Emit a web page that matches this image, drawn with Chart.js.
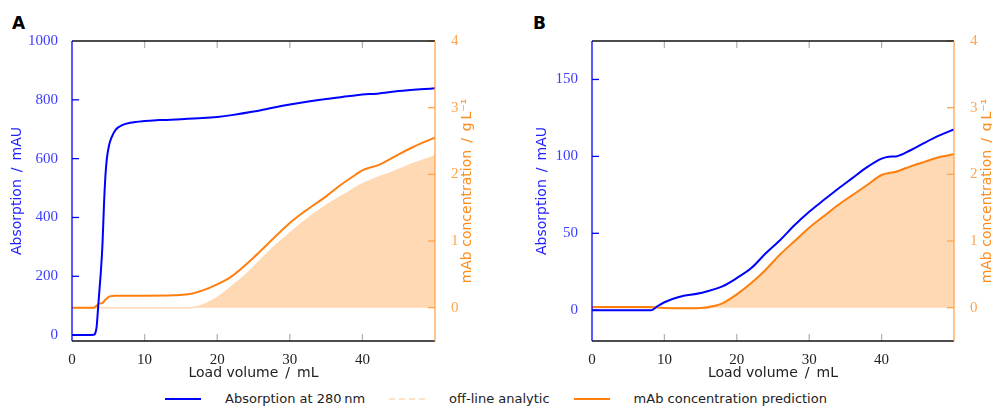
<!DOCTYPE html>
<html>
<head>
<meta charset="utf-8">
<script src="https://cdn.jsdelivr.net/npm/chart.js@4.4.1/dist/chart.umd.min.js"></script>
<style>
  body { margin: 0; background: #fff; width: 992px; height: 409px; position: relative; overflow: hidden; font-family: 'DejaVu Sans', sans-serif; }
  canvas { position: absolute; top: 0; }
  .tag { position: absolute; top: 13px; font: bold 17px 'DejaVu Sans', sans-serif; color: #000; }
  #legend { position: absolute; top: 391px; left: 0; width: 992px; display: flex; justify-content: center; align-items: center; font-size: 13px; color: #222; }
  .item { display: flex; align-items: center; margin: 0 12px; }
  .swatch { width: 36px; height: 0; border-top: 2px solid; margin-right: 24px; }
</style>
</head>
<body>
<div class="tag" style="left:12px">A</div>
<div class="tag" style="left:533px">B</div>
<canvas id="chartA" width="496" height="385" style="left:0"></canvas>
<canvas id="chartB" width="496" height="385" style="left:496px"></canvas>
<div id="legend">
  <div class="item"><span class="swatch" style="border-color:#0000ff"></span>Absorption at 280&#8201;nm</div>
  <div class="item"><span class="swatch" style="border-top:2px dashed #ffe2c6"></span>off-line analytic</div>
  <div class="item"><span class="swatch" style="border-color:#ff7f0e"></span>mAb concentration prediction</div>
</div>
<script>
// shared ticks
const xTicks = [0, 10, 20, 30, 40];
const concTicks = [0, 1, 2, 3, 4];
const absTicksA = [0, 200, 400, 600, 800, 1000];
const absTicksB = [0, 50, 100, 150];

// Panel A
const absAX = [0, 2, 3, 3.2, 3.4, 3.6, 3.8, 4.0, 4.2, 4.4, 4.6, 4.8, 5.1, 5.5, 6, 7, 8, 10, 12, 15, 18, 20, 22, 25, 28, 30, 33, 35, 38, 40, 42, 45, 48, 50];
const absA  = [0, 0, 1, 6, 30, 95, 160, 225, 310, 440, 540, 600, 645, 675, 698, 715, 722, 728, 731, 734, 738, 742, 748, 760, 775, 784, 796, 803, 812, 818, 821, 830, 836, 839];
const predAX = [0, 3, 3.4, 3.7, 4.2, 4.6, 5.2, 6, 10, 14, 16, 18, 20, 22, 25, 27, 30, 32, 35, 37, 39, 40, 41, 42, 43, 45, 47, 48, 50];
const predA  = [0, 0, 0.03, 0.06, 0.07, 0.12, 0.17, 0.18, 0.18, 0.185, 0.2, 0.26, 0.35, 0.47, 0.75, 0.96, 1.27, 1.44, 1.67, 1.84, 1.99, 2.06, 2.1, 2.13, 2.18, 2.3, 2.41, 2.46, 2.55];
const offAX = [0, 16, 17, 18, 19, 20, 21, 22, 24, 26, 28, 30, 32, 34, 36, 38, 40, 42, 44, 46, 48, 50];
const offA  = [0, 0, 0.01, 0.04, 0.09, 0.15, 0.23, 0.32, 0.5, 0.72, 0.93, 1.12, 1.3, 1.46, 1.6, 1.73, 1.86, 1.95, 2.03, 2.12, 2.2, 2.28];

// Panel B
const absBX = [0, 8.2, 9, 10, 12, 15, 18, 20, 22, 24, 26, 28, 30, 32, 34, 36, 38, 40, 41, 42, 44, 46, 48, 50];
const absB  = [0, 0, 2.5, 5.2, 8.6, 11.2, 15.5, 20.9, 27.4, 37, 45.7, 55.4, 64, 71.6, 79, 86, 93, 98.5, 99.8, 100, 104, 109, 113.6, 117.5];
const predBX = [0, 8, 10, 12, 15, 17, 18, 20, 22, 24, 26, 28, 30, 32, 34, 36, 38, 40, 41, 42, 44, 46, 48, 50];
const predB  = [0.01, 0.01, -0.005, -0.01, -0.005, 0.03, 0.065, 0.2, 0.37, 0.57, 0.8, 1.0, 1.2, 1.37, 1.54, 1.69, 1.84, 1.99, 2.02, 2.04, 2.12, 2.19, 2.26, 2.3];
const offBX = [0, 16, 17, 18, 20, 22, 24, 26, 28, 30, 32, 34, 36, 38, 40, 41, 42, 44, 46, 48, 50];
const offB  = [0, 0, 0.03, 0.065, 0.2, 0.37, 0.57, 0.8, 1.0, 1.2, 1.37, 1.54, 1.69, 1.84, 1.99, 2.02, 2.04, 2.12, 2.19, 2.26, 2.3];

const BLUE = '#0000ff';
const ORANGE = '#ff7f0e';
const PEACH = '#ffd9b3';
const AXIS_ORANGE = '#ffa54f';

Chart.defaults.font.family = "'DejaVu Sans', sans-serif";

function series(xs, ys) {
  return xs.map((x, i) => ({ x: x, y: ys[i] }));
}

function setTicks(list) {
  return scale => { scale.ticks = list.map(v => ({ value: v })); };
}

// inward tick marks, frame lines and the right axis title
const frame = {
  id: 'frame',
  afterDatasetsDraw(chart) {
    const { ctx, chartArea: a, scales } = chart;
    const seg = (x1, y1, x2, y2) => { ctx.beginPath(); ctx.moveTo(x1, y1); ctx.lineTo(x2, y2); ctx.stroke(); };
    ctx.save();
    ctx.lineWidth = 1.3;
    ctx.strokeStyle = '#b4b4b4';
    scales.x.ticks.forEach(t => {
      if (t.value <= scales.x.min || t.value >= scales.x.max) return;
      const px = scales.x.getPixelForValue(t.value);
      seg(px, a.top, px, a.top + 7);
      seg(px, a.bottom, px, a.bottom - 7);
    });
    ctx.strokeStyle = BLUE;
    scales.y.ticks.forEach(t => {
      if (t.value <= scales.y.min || t.value >= scales.y.max) return;
      const py = scales.y.getPixelForValue(t.value);
      seg(a.left, py, a.left + 7, py);
    });
    ctx.strokeStyle = AXIS_ORANGE;
    scales.y1.ticks.forEach(t => {
      if (t.value <= scales.y1.min || t.value > scales.y1.max) return;
      const py = scales.y1.getPixelForValue(t.value);
      seg(a.right, py, a.right - 7, py);
    });
    ctx.strokeStyle = '#111';
    seg(a.left, a.top, a.right, a.top);
    seg(a.left, a.bottom, a.right, a.bottom);
    ctx.strokeStyle = BLUE;
    seg(a.left, a.top, a.left, a.bottom);
    ctx.strokeStyle = AXIS_ORANGE;
    seg(a.right, a.top, a.right, a.bottom);

    const o = chart.options.plugins.frame;
    ctx.translate(a.right + o.titleOffset, (a.top + a.bottom) / 2);
    ctx.rotate(-Math.PI / 2);
    ctx.fillStyle = '#ff8c1a';
    ctx.font = "14px 'DejaVu Sans'";
    ctx.textAlign = 'center';
    ctx.textBaseline = 'middle';
    ctx.fillText('mAb concentration\u2002/\u2002g\u2009L\u207B\u00B9', 0, 0);
    ctx.restore();
  }
};

function makeChart(id, p) {
  const tickFont = { family: "'Liberation Serif', serif", size: 15 };
  const titleFont = { family: "'DejaVu Sans', sans-serif", size: 14 };
  return new Chart(document.getElementById(id), {
    type: 'line',
    data: {
      datasets: [
        { label: 'Absorption at 280 nm', data: series(p.absX, p.abs), yAxisID: 'y',
          borderColor: BLUE, borderWidth: 2, pointRadius: 0, cubicInterpolationMode: 'monotone', order: 1 },
        { label: 'mAb concentration prediction', data: series(p.predX, p.pred), yAxisID: 'y1',
          borderColor: ORANGE, borderWidth: 2, pointRadius: 0, cubicInterpolationMode: 'monotone', order: 2 },
        { label: 'off-line analytic', data: series(p.offX, p.off), yAxisID: 'y1',
          borderColor: PEACH, borderWidth: 1.5, backgroundColor: PEACH,
          fill: { value: 0 }, pointRadius: 0, cubicInterpolationMode: 'monotone', order: 3 }
      ]
    },
    options: {
      responsive: false,
      animation: false,
      layout: { padding: { top: 41 } },
      plugins: { legend: { display: false }, tooltip: { enabled: false }, frame: { titleOffset: p.rightTitle } },
      scales: {
        x: {
          type: 'linear', min: 0, max: 50,
          afterBuildTicks: setTicks(xTicks),
          afterFit: s => { s.height = 44; },
          grid: { display: false }, border: { display: false },
          ticks: { font: tickFont, color: '#222', padding: 2, maxRotation: 0, callback: v => String(v) },
          title: { display: true, text: 'Load volume\u2002/\u2002mL', font: titleFont, color: '#222', padding: { top: 0, bottom: 3 } }
        },
        y: {
          position: 'left', min: p.absMin, max: p.absMax,
          afterBuildTicks: setTicks(p.absTicks),
          afterFit: s => { s.width = p.leftW; },
          grid: { display: false }, border: { display: false },
          ticks: { font: tickFont, color: '#3c3cff', padding: 6, callback: v => String(v) },
          title: { display: true, text: 'Absorption\u2002/\u2002mAU', font: titleFont, color: '#1e1eff', padding: { top: p.leftTitle, bottom: 0 } }
        },
        y1: {
          position: 'right', min: -0.5, max: 4,
          afterBuildTicks: setTicks(concTicks),
          afterFit: s => { s.width = p.rightW; },
          grid: { display: false }, border: { display: false },
          ticks: { font: tickFont, color: AXIS_ORANGE, padding: 8, callback: v => String(v) }
        }
      }
    },
    plugins: [frame]
  });
}

makeChart('chartA', {
  absX: absAX, abs: absA, predX: predAX, pred: predA, offX: offAX, off: offA,
  absMin: -20, absMax: 1000, absTicks: absTicksA,
  leftW: 72, rightW: 61, leftTitle: 9, rightTitle: 32
});
makeChart('chartB', {
  absX: absBX, abs: absB, predX: predBX, pred: predB, offX: offBX, off: offB,
  absMin: -20, absMax: 175, absTicks: absTicksB,
  leftW: 96, rightW: 38, leftTitle: 38, rightTitle: 33
});
</script>
</body>
</html>
